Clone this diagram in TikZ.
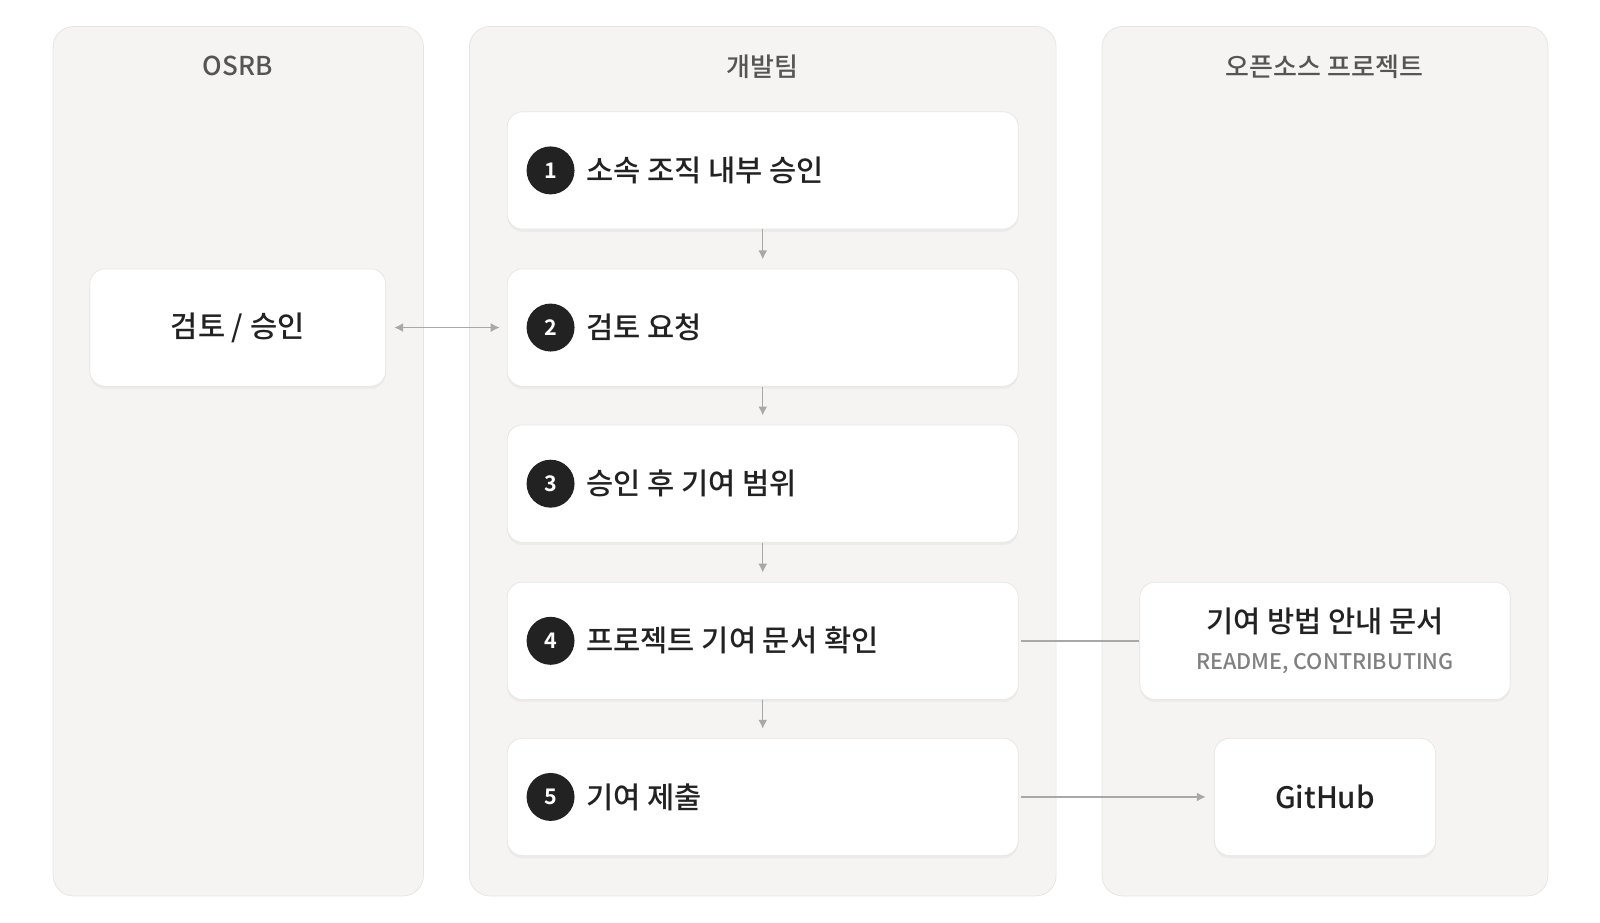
\documentclass[tikz,border=0pt]{standalone}
\usepackage{fontspec}
\setmainfont{Noto Sans CJK KR}[UprightFont = * Medium, BoldFont = * Bold]
\usetikzlibrary{arrows.meta,positioning,shadows}
\definecolor{panelbg}{HTML}{F5F4F2}
\definecolor{panelline}{HTML}{E6E4E0}
\definecolor{boxline}{HTML}{E8E6E2}
\definecolor{ink}{HTML}{222222}
\definecolor{title}{HTML}{555555}
\definecolor{arrowgray}{HTML}{A8A8A8}
\tikzset{
  panel/.style={fill=panelbg, draw=panelline, rounded corners=0.4cm},
  lane/.style={font=\fontsize{14.5}{16}\selectfont, text=title},
  box/.style={fill=white, draw=boxline, rounded corners=0.3cm, minimum height=2.3cm,
    drop shadow={opacity=0.07, shadow xshift=0pt, shadow yshift=-1.5pt},
    font=\fontsize{16.5}{19}\selectfont, text=ink},
  num/.style={circle, fill=ink, text=white, minimum size=0.94cm, inner sep=0pt, font=\fontsize{12}{14}\selectfont\bfseries},
  arr/.style={draw=arrowgray, line width=0.8pt, -{Latex[length=5pt,width=5pt]}},
}
\begin{document}
\begin{tikzpicture}[x=0.02cm, y=-0.02cm]
  % lanes
  \draw[panel] (52,26) rectangle (415,878);
  \draw[panel] (460,26) rectangle (1035,878);
  \draw[panel] (1080,26) rectangle (1517,878);
  \node[lane] at (233,65) {OSRB};
  \node[lane] at (747,65) {개발팀};
  \node[lane] at (1298,65) {오픈소스 프로젝트};

  % steps
  \foreach \i/\y/\txt in {1/167/소속 조직 내부 승인, 2/321/검토 요청, 3/474/승인 후 기여 범위,
                          4/628/프로젝트 기여 문서 확인, 5/781/기여 제출} {
    \node[box, minimum width=10.02cm] (s\i) at (747.5,\y) {};
    \node[num, right=0.38cm of s\i.west] (n\i) {\i};
    \node[right=0.1cm of n\i, font=\fontsize{16.5}{19}\selectfont, text=ink] (t\i) {\txt};
  }

  \node[box, minimum width=5.8cm] (review) at (233,321) {검토 / 승인};
  \node[box, minimum width=7.26cm, align=center] (doc) at (1298.5,628)
    {기여 방법 안내 문서\\[2pt]{\fontsize{12}{14}\selectfont\color{gray}README, CONTRIBUTING}};
  \node[box, minimum width=4.34cm] (git) at (1298.5,781) {GitHub};

  % connectors
  \foreach \a/\b in {1/2, 2/3, 3/4, 4/5}
    \draw[arr, shorten >=0.18cm] (s\a.south) -- (s\b.north);
  \draw[arr, {Latex[length=5pt,width=5pt]}-{Latex[length=5pt,width=5pt]}, shorten <=0.16cm, shorten >=0.14cm] (review.east) -- (s2.west);
  \draw[draw=arrowgray, line width=0.8pt, shorten <=0.04cm] (s4.east) -- (doc.west);
  \draw[arr, shorten <=0.04cm, shorten >=0.16cm] (s5.east) -- (git.west);

  \pgfresetboundingbox
  \useasboundingbox (0,0) rectangle (1568,904.5);
\end{tikzpicture}
\end{document}
